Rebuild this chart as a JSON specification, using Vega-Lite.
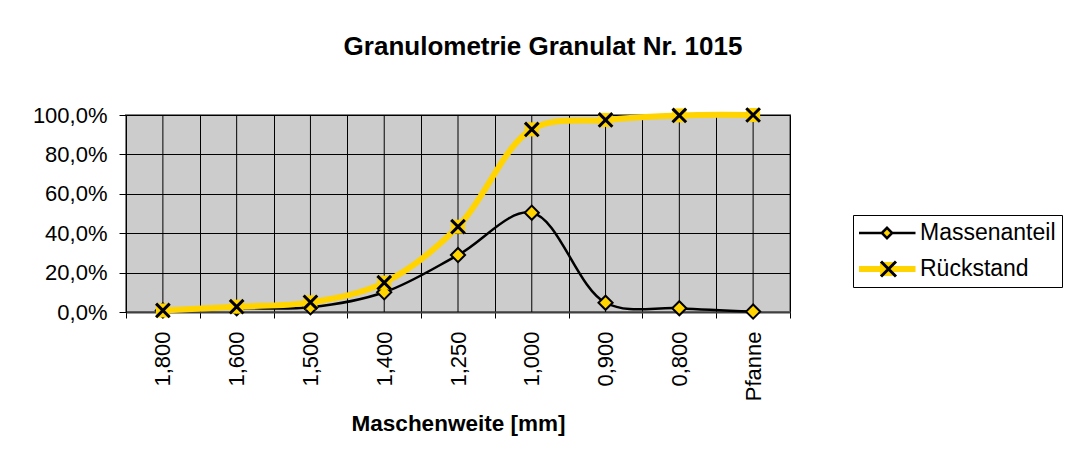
{
  "$schema": "https://vega.github.io/schema/vega-lite/v6.json",
  "width": 664,
  "height": 197,
  "autosize": {"type": "none"},
  "padding": {"left": 126, "top": 115, "right": 283, "bottom": 149},
  "background": "white",
  "title": {
    "text": "Granulometrie Granulat Nr. 1015",
    "fontSize": 26,
    "fontWeight": "bold",
    "color": "black",
    "anchor": "middle",
    "frame": "group",
    "baseline": "alphabetic",
    "offset": 21,
    "dx": 85
  },
  "config": {
    "font": "Liberation Sans",
    "view": {"fill": "#cccccc", "stroke": "#808080", "strokeWidth": 2},
    "axisY": {
      "values": [0, 20, 40, 60, 80, 100],
      "labelOverlap": false,
      "labelFlush": false,
      "labelFontSize": 22,
      "labelColor": "black",
      "labelPadding": 12,
      "tickSize": 7,
      "tickColor": "black",
      "gridColor": "black",
      "gridOpacity": 1,
      "gridWidth": 1,
      "domainColor": "black",
      "domainWidth": 1
    }
  },
  "data": {
    "values": [
      {"cat": "1,800", "series": "Massenanteil", "value": 0.8},
      {"cat": "1,600", "series": "Massenanteil", "value": 1.9},
      {"cat": "1,500", "series": "Massenanteil", "value": 2.4},
      {"cat": "1,400", "series": "Massenanteil", "value": 10.0},
      {"cat": "1,250", "series": "Massenanteil", "value": 28.9},
      {"cat": "1,000", "series": "Massenanteil", "value": 50.4},
      {"cat": "0,900", "series": "Massenanteil", "value": 4.7},
      {"cat": "0,800", "series": "Massenanteil", "value": 1.9},
      {"cat": "Pfanne", "series": "Massenanteil", "value": 0.2},
      {"cat": "1,800", "series": "Rückstand", "value": 0.8},
      {"cat": "1,600", "series": "Rückstand", "value": 2.7},
      {"cat": "1,500", "series": "Rückstand", "value": 4.9},
      {"cat": "1,400", "series": "Rückstand", "value": 14.9},
      {"cat": "1,250", "series": "Rückstand", "value": 43.3},
      {"cat": "1,000", "series": "Rückstand", "value": 92.7},
      {"cat": "0,900", "series": "Rückstand", "value": 97.5},
      {"cat": "0,800", "series": "Rückstand", "value": 99.8},
      {"cat": "Pfanne", "series": "Rückstand", "value": 100.0}
    ]
  },
  "encoding": {
    "x": {
      "field": "cat",
      "type": "ordinal",
      "sort": ["1,800", "1,600", "1,500", "1,400", "1,250", "1,000", "0,900", "0,800", "Pfanne"],
      "scale": {"paddingInner": 0, "paddingOuter": 0},
      "axis": {
        "title": "Maschenweite [mm]",
        "titleFontSize": 22.5,
        "titleFontWeight": "bold",
        "titleColor": "black",
        "titlePadding": 12,
        "labelAngle": 270,
        "labelFontSize": 22,
        "labelColor": "black",
        "labelPadding": 13,
        "labelOverlap": false,
        "tickSize": 6,
        "tickColor": "black",
        "tickBand": "extent",
        "grid": true,
        "gridColor": "black",
        "gridOpacity": 1,
        "gridWidth": 1,
        "domainColor": "#404040",
        "domainWidth": 2
      }
    }
  },
  "layer": [
    {
      "transform": [{"filter": "datum.series === 'Massenanteil'"}],
      "mark": {"type": "rule", "color": "black", "strokeWidth": 1},
      "encoding": {}
    },
    {
      "transform": [{"filter": "datum.series === 'Massenanteil'"}],
      "mark": {"type": "line", "interpolate": "catmull-rom", "strokeWidth": 2.5},
      "encoding": {
        "y": {
          "field": "value",
          "type": "quantitative",
          "scale": {"domain": [0, 100], "nice": false},
          "axis": {
            "title": null,
            "values": [0, 20, 40, 60, 80, 100],
            "labelExpr": "replace(format(datum.value, '.1f'), '.', ',') + '%'"
          }
        },
        "stroke": {
          "field": "series",
          "type": "nominal",
          "scale": {"domain": ["Massenanteil", "Rückstand"], "range": ["black", "#FFD400"]},
          "legend": {
            "orient": "none",
            "legendX": 727,
            "legendY": 100,
            "title": null,
            "padding": 6,
            "strokeColor": "black",
            "fillColor": "white",
            "symbolSize": 3249,
            "symbolOffset": 16.5,
            "clipHeight": 24,
            "rowPadding": 12,
            "labelFontSize": 23,
            "labelColor": "black",
            "labelOffset": 21.5,
            "encode": {
              "symbols": {
                "update": {
                  "shape": {"signal": "datum.value === 'Massenanteil' ? 'M-1,0H-0.2M-0.18,0L0,-0.18L0.18,0L0,0.18ZM0.2,0H1' : 'M-1,0H1M-0.14,-0.14H0.14V0.14H-0.14Z'"},
                  "fill": {"value": "#FFD400"},
                  "fillOpacity": {"value": 1},
                  "strokeWidth": {"signal": "datum.value === 'Massenanteil' ? 2.5 : 6"},
                  "opacity": {"value": 1}
                }
              }
            }
          }
        }
      }
    },
    {
      "transform": [{"filter": "datum.series === 'Massenanteil'"}],
      "mark": {"type": "point", "shape": "diamond", "filled": true, "fill": "#FFD400", "stroke": "black", "strokeWidth": 2, "size": 200, "opacity": 1},
      "encoding": {
        "y": {"field": "value", "type": "quantitative", "scale": {"domain": [0, 100], "nice": false}, "axis": {"title": null, "values": [0, 20, 40, 60, 80, 100], "labelExpr": "replace(format(datum.value, '.1f'), '.', ',') + '%'"}}
      }
    },
    {
      "transform": [{"filter": "datum.series === 'Rückstand'"}],
      "mark": {"type": "line", "interpolate": "catmull-rom", "strokeWidth": 6},
      "encoding": {
        "y": {"field": "value", "type": "quantitative", "scale": {"domain": [0, 100], "nice": false}, "axis": {"title": null, "values": [0, 20, 40, 60, 80, 100], "labelExpr": "replace(format(datum.value, '.1f'), '.', ',') + '%'"}},
        "stroke": {"field": "series", "type": "nominal"}
      }
    },
    {
      "transform": [{"filter": "datum.series === 'Rückstand'"}],
      "mark": {"type": "square", "size": 196, "color": "#FFD400", "opacity": 1},
      "encoding": {
        "y": {"field": "value", "type": "quantitative", "scale": {"domain": [0, 100], "nice": false}, "axis": {"title": null, "values": [0, 20, 40, 60, 80, 100], "labelExpr": "replace(format(datum.value, '.1f'), '.', ',') + '%'"}}
      }
    },
    {
      "transform": [{"filter": "datum.series === 'Rückstand'"}],
      "mark": {"type": "point", "filled": false, "stroke": "black", "strokeWidth": 3, "size": 330, "opacity": 1},
      "encoding": {
        "y": {"field": "value", "type": "quantitative", "scale": {"domain": [0, 100], "nice": false}, "axis": {"title": null, "values": [0, 20, 40, 60, 80, 100], "labelExpr": "replace(format(datum.value, '.1f'), '.', ',') + '%'"}},
        "shape": {
          "field": "series",
          "type": "nominal",
          "scale": {"domain": ["Rückstand"], "range": ["M-0.75,-0.75L0.75,0.75M-0.75,0.75L0.75,-0.75"]},
          "legend": {
            "orient": "none",
            "legendX": 745,
            "legendY": 136,
            "title": null,
            "padding": 6,
            "symbolSize": 400,
            "symbolStrokeWidth": 3,
            "symbolStrokeColor": "black",
            "symbolFillColor": "transparent",
            "clipHeight": 24,
            "rowPadding": 12,
            "labelFontSize": 1,
            "labelOpacity": 0,
            "labelExpr": "''",
            "encode": {
              "symbols": {
                "update": {
                  "shape": {"value": "M-0.7,-0.7L0.7,0.7M-0.7,0.7L0.7,-0.7"},
                  "stroke": {"value": "black"},
                  "strokeWidth": {"value": 3},
                  "fill": {"value": "transparent"},
                  "opacity": {"value": 1}
                }
              }
            }
          }
        }
      }
    }
  ]
}
